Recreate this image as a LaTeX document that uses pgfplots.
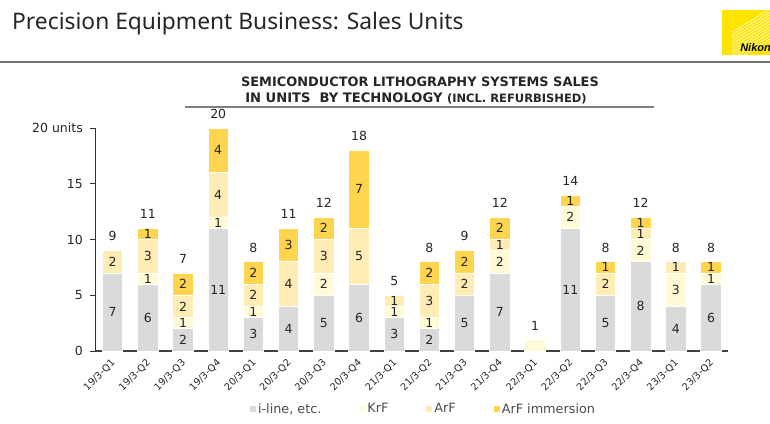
\documentclass[border=0pt]{standalone}
\usepackage{pgfplots}
\pgfplotsset{compat=1.18}
\usepackage{fontspec}
\usepackage{graphicx}
\setmainfont{DejaVu Sans}
\newfontfamily\titlefont{Noto Sans}
\newfontfamily\nikonfont{Liberation Sans}
\definecolor{cIline}{HTML}{DADADA}
\definecolor{cKrF}{HTML}{FFFBD6}
\definecolor{cArF}{HTML}{FFEDB5}
\definecolor{cImm}{HTML}{FFD54F}
\definecolor{cNikon}{HTML}{FFE400}
\definecolor{txt}{HTML}{262626}
\begin{document}
\begin{tikzpicture}
\path[use as bounding box, fill=white] (0,0) rectangle (770bp,-424bp);
% page title
\node[anchor=base west, inner sep=0pt, text=txt] at (12bp,-29.3bp) {\titlefont\fontsize{22.8bp}{27bp}\selectfont Precision Equipment Business: Sales Units};
\draw[line width=2.5bp, color=black!55] (0,-62bp) -- (770bp,-62bp);
% logo
\begin{scope}
\clip (722bp,-10bp) rectangle (770bp,-55bp);
\fill[cNikon] (722bp,-10bp) rectangle (770bp,-55bp);
\foreach \a in {0,3,...,30} {
  \draw[white, opacity=0.7, line width=0.8bp] (772bp,{-8bp-\a bp}) -- ++(-40bp,-24bp);
}
\end{scope}
\node[anchor=south east, inner sep=0pt] at (771bp,-52bp) {\nikonfont\bfseries\itshape\fontsize{11bp}{12bp}\selectfont Nikon};
% chart title
\node[text=txt] at (420bp,-82bp) {\bfseries\fontsize{12.9bp}{14bp}\selectfont SEMICONDUCTOR LITHOGRAPHY SYSTEMS SALES};
\node[text=txt] at (416bp,-98bp) {\bfseries\fontsize{13.1bp}{14bp}\selectfont IN UNITS\ \ BY TECHNOLOGY {\fontsize{11.5bp}{12bp}\selectfont (INCL. REFURBISHED)}};
\draw[line width=1.5bp, color=black!50] (185bp,-107bp) -- (654bp,-107bp);
\begin{axis}[
  at={(95bp,-351bp)}, anchor=south west,
  scale only axis, width=633bp, height=223bp,
  ymin=0, ymax=20, xmin=-0.5, xmax=17.48,
  ybar stacked, bar width=0.58,
  axis x line*=bottom, axis y line*=left,
  x axis line style={line width=1.3bp, color=black!75},
  y axis line style={line width=0.9bp, color=black!80},
  xtick={0,...,17},
  xticklabels={19/3-Q1,19/3-Q2,19/3-Q3,19/3-Q4,20/3-Q1,20/3-Q2,20/3-Q3,20/3-Q4,21/3-Q1,21/3-Q2,21/3-Q3,21/3-Q4,22/3-Q1,22/3-Q2,22/3-Q3,22/3-Q4,23/3-Q1,23/3-Q2},
  xtick style={draw=none},
  xticklabel style={xshift=1bp, yshift=-5bp, rotate=45, anchor=east, inner sep=0pt, font=\fontsize{9.7bp}{11bp}\selectfont, text=txt},
  ytick={0,5,10,15,20},
  yticklabels={0,5,10,15,20 units},
  tick align=outside, major tick length=5bp,
  ytick style={color=black!80, line width=0.9bp},
  yticklabel style={font=\fontsize{12.5bp}{14bp}\selectfont, text=txt, inner sep=0pt, xshift=-7bp},
  every axis plot/.append style={draw=white, line width=0.8bp},
  seg/.style={
    visualization depends on={rawy \as \rawy},
    nodes near coords={\ifdim\rawy pt>0.5pt\pgfmathprintnumber[assume math mode=true]{\rawy}\fi},
    every node near coord/.style={anchor=center, font=\fontsize{12.5bp}{14bp}\selectfont, text=txt},
  },
  legend columns=4,
  legend style={draw=none, fill=none, at={(0.519,0)}, anchor=center, yshift=-58bp,
    font=\fontsize{12.8bp}{14bp}\selectfont, text=black!70,
    /tikz/every even column/.append style={column sep=36bp}},
  legend image code/.code={\fill[#1, draw=none] (-3bp,-3bp) rectangle (3bp,3bp);},
]
\addplot[fill=cIline, seg] coordinates {(0,7) (1,6) (2,2) (3,11) (4,3) (5,4) (6,5) (7,6) (8,3) (9,2) (10,5) (11,7) (12,0) (13,11) (14,5) (15,8) (16,4) (17,6)};
\addplot[fill=cKrF, seg, visualization depends on={rawx \as \rawx},
  nodes near coords={\ifdim\rawy pt>0.5pt\ifdim\rawx pt=12pt\else\pgfmathprintnumber[assume math mode=true]{\rawy}\fi\fi}]
  coordinates {(0,0) (1,1) (2,1) (3,1) (4,1) (5,0) (6,2) (7,0) (8,1) (9,1) (10,0) (11,2) (12,1) (13,2) (14,0) (15,2) (16,3) (17,1)};
\addplot[fill=cArF, seg] coordinates {(0,2) (1,3) (2,2) (3,4) (4,2) (5,4) (6,3) (7,5) (8,1) (9,3) (10,2) (11,1) (12,0) (13,0) (14,2) (15,1) (16,1) (17,0)};
\addplot[fill=cImm, seg] coordinates {(0,0) (1,1) (2,2) (3,4) (4,2) (5,3) (6,2) (7,7) (8,0) (9,2) (10,2) (11,2) (12,0) (13,1) (14,1) (15,1) (16,0) (17,1)};
\legend{{i-line, etc.},KrF,ArF,ArF immersion}
\end{axis}
\begin{axis}[
  at={(95bp,-351bp)}, anchor=south west,
  scale only axis, width=633bp, height=223bp,
  ymin=0, ymax=20, xmin=-0.5, xmax=17.48,
  hide axis,
]
\addplot[only marks, mark=none, visualization depends on={rawy \as \rawy},
  nodes near coords={\pgfmathprintnumber[assume math mode=true]{\rawy}},
  every node near coord/.style={anchor=south, inner sep=0pt, yshift=9.4bp, font=\fontsize{12.5bp}{14bp}\selectfont, text=txt}]
  coordinates {(0,9) (1,11) (2,7) (3,20) (4,8) (5,11) (6,12) (7,18) (8,5) (9,8) (10,9) (11,12) (12,1) (13,14) (14,8) (15,12) (16,8) (17,8)};
\end{axis}
\end{tikzpicture}
\end{document}
